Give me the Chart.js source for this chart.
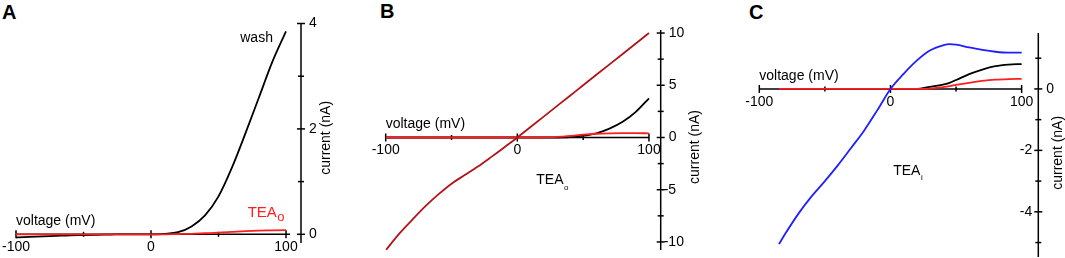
<!DOCTYPE html>
<html>
<head>
<meta charset="utf-8">
<script src="https://cdn.jsdelivr.net/npm/chart.js@4.4.1/dist/chart.umd.min.js"></script>
<style>
body{margin:0;background:#fff;width:1065px;height:258px;overflow:hidden;position:relative;font-family:"Liberation Sans",Arial,sans-serif}
canvas{position:absolute;top:0}
.lbl{position:absolute;font-weight:bold;font-size:20px;color:#000;line-height:1}
</style>
</head>
<body>
<div class="lbl" style="left:2px;top:2px">A</div>
<div class="lbl" style="left:380px;top:1px">B</div>
<div class="lbl" style="left:749px;top:2px">C</div>
<canvas id="cA" width="355" height="258" style="left:0"></canvas>
<canvas id="cB" width="355" height="258" style="left:355px"></canvas>
<canvas id="cC" width="355" height="258" style="left:710px"></canvas>
<script>
// panel A: wash vs external TEA
const voltA=[-100,-90,-80,-70,-60,-50,-40,-30,-20,-10,0,10,20,30,40,50,60,70,80,90,100]
const washA=[-0.06,-0.05,-0.04,-0.03,-0.02,-0.015,-0.01,-0.005,0,0,0,0.01,0.04,0.15,0.36,0.72,1.27,1.92,2.6,3.28,3.85]
const teaoA=[0,0,0,0,0,0,0,0,0,0,0,0,0.005,0.01,0.02,0.03,0.045,0.06,0.07,0.075,0.08]

// panel B
const voltB=[-100,-90,-80,-70,-60,-50,-40,-30,-20,-10,0,10,20,30,40,50,60,70,80,90,100]
const darkB=[-10.8,-9.25,-7.9,-6.6,-5.45,-4.42,-3.6,-2.78,-1.88,-0.95,0,1.0,2.0,3.0,4.0,5.0,6.0,7.0,8.0,9.0,10.0]
const blackB=[0,0,0,0,0,0,0,0,0,0,0,0,0,0,0.03,0.17,0.4,0.85,1.5,2.45,3.75]
const redB=[0,0,0,0,0,0,0,0,0,0,0,0,0,0.05,0.15,0.28,0.36,0.4,0.42,0.42,0.4]

// panel C: internal TEA
const voltC=[-85,-80,-70,-60,-50,-40,-30,-20,-10,0,10,20,30,40,45,50,60,70,80,90,100]
const blueC=[-5.05,-4.7,-4.05,-3.49,-3.0,-2.48,-1.92,-1.35,-0.69,0,0.49,0.92,1.25,1.42,1.46,1.44,1.35,1.27,1.21,1.18,1.18]
const blackC=[0,0,0,0,0,0,0,0,0,0,0,0,0.07,0.14,0.2,0.29,0.48,0.63,0.74,0.79,0.81]
const redC=[0,0,0,0,0,0,0,0,0,0,0,0,0.01,0.06,0.09,0.13,0.2,0.26,0.3,0.32,0.33]

const xMajor=[-100,0,100], xMinor=[-50,50]
const yMajorA=[0,2,4], yMinorA=[1,3]
const yMajorB=[-10,-5,0,5,10], yMinorB=[-7.5,-2.5,2.5,7.5]
const yMajorC=[-4,-2,0], yMinorC=[-5,-3,-1,1]

const RED='#ff1e1e', DARKRED='#b0141a', BLUE='#1f1fff', BLACK='#000'
const FONT='14px "Liberation Sans", Arial, sans-serif'

function pts(xs,ys){return xs.map((x,i)=>({x:x,y:ys[i]}))}

function drawSub(ctx,x,y,main,sub,size,subSize,drop,color){
  ctx.fillStyle=color
  ctx.font=size+'px "Liberation Sans", Arial, sans-serif'
  ctx.textAlign='left';ctx.textBaseline='middle'
  ctx.fillText(main,x,y)
  const w=ctx.measureText(main).width
  ctx.font=subSize+'px "Liberation Sans", Arial, sans-serif'
  ctx.fillText(sub,x+w+0.5,y+drop)
}

const crossAxes={
  id:'crossAxes',
  beforeDatasetsDraw(chart,args,o){
    const ctx=chart.ctx, sx=chart.scales.x, sy=chart.scales.y, ca=chart.chartArea
    const ax=sy.getPixelForValue(0), ay=ca.right
    ctx.save()
    ctx.strokeStyle=BLACK;ctx.fillStyle=BLACK;ctx.lineWidth=1.5
    ctx.beginPath();ctx.moveTo(sx.getPixelForValue(-100),ax);ctx.lineTo(sx.getPixelForValue(o.xEnd),ax);ctx.stroke()
    ctx.beginPath();ctx.moveTo(ay,ca.top);ctx.lineTo(ay,ca.bottom);ctx.stroke()
    xMajor.forEach(v=>{const p=sx.getPixelForValue(v);ctx.beginPath();ctx.moveTo(p,ax-4);ctx.lineTo(p,ax+4);ctx.stroke()})
    xMinor.forEach(v=>{const p=sx.getPixelForValue(v);ctx.beginPath();ctx.moveTo(p,ax-2.5);ctx.lineTo(p,ax+2.5);ctx.stroke()})
    o.yMajor.forEach(v=>{const p=sy.getPixelForValue(v);ctx.beginPath();ctx.moveTo(ay-4,p);ctx.lineTo(ay+4,p);ctx.stroke()})
    o.yMinor.forEach(v=>{const p=sy.getPixelForValue(v);ctx.beginPath();ctx.moveTo(ay-3,p);ctx.lineTo(ay+3,p);ctx.stroke()})
    ctx.font=FONT
    ctx.textBaseline='middle';ctx.textAlign='center'
    xMajor.forEach(v=>ctx.fillText(String(v),sx.getPixelForValue(v),ax+o.xLabDy))
    o.yMajor.forEach(v=>{
      const p=sy.getPixelForValue(v)
      if(v<0&&o.negLeft){ctx.textAlign='right';ctx.fillText(String(v),ay-6,p)}
      else{ctx.textAlign='left';ctx.fillText(String(v),ay+(v<0?3:8),p)}
    })
    ctx.textAlign='left'
    ctx.fillText('voltage (mV)',sx.getPixelForValue(-100),ax-13)
    ctx.save()
    ctx.translate(ay+o.titleDx,sy.getPixelForValue(o.titleY))
    ctx.rotate(-Math.PI/2);ctx.textAlign='center'
    ctx.fillText('current (nA)',0,0)
    ctx.restore()
    o.notes.forEach(n=>{
      const px=sx.getPixelForValue(n.x), py=sy.getPixelForValue(n.y)
      if(n.sub) drawSub(ctx,px,py,n.text,n.sub,n.size,n.subSize,n.drop,n.color)
      else{ctx.fillStyle=n.color;ctx.font=n.size+'px "Liberation Sans", Arial, sans-serif';ctx.textAlign=n.align||'left';ctx.fillText(n.text,px,py)}
    })
    ctx.restore()
  }
}

function line(data,color){
  return {data:data,borderColor:color,borderWidth:1.8,pointRadius:0,showLine:true,fill:false,cubicInterpolationMode:'monotone'}
}

function makeChart(id,datasets,xMax,yMin,yMax,pad,axOpts){
  return new Chart(document.getElementById(id),{
    type:'scatter',
    data:{datasets:datasets},
    options:{
      responsive:false,animation:false,
      layout:{padding:pad},
      scales:{
        x:{type:'linear',min:-100,max:xMax,display:false},
        y:{type:'linear',min:yMin,max:yMax,display:false}
      },
      plugins:{legend:{display:false},tooltip:{enabled:false},crossAxes:axOpts}
    },
    plugins:[crossAxes]
  })
}

makeChart('cA',[line(pts(voltA,teaoA),RED),line(pts(voltA,washA),BLACK)],
  111.1,-0.165,4.0,{left:16,right:54,top:23.5,bottom:15},
  {xEnd:103,yMajor:yMajorA,yMinor:yMinorA,xLabDy:12.5,titleDx:25,titleY:1.83,negLeft:false,
   notes:[{text:'wash',x:90.3,y:3.72,size:14,color:BLACK,align:'right'},
          {text:'TEA',sub:'o',x:71.6,y:0.41,size:15,subSize:13,drop:5,color:RED}]})

makeChart('cB',[line(pts(voltB,darkB),DARKRED),line(pts(voltB,redB),RED),line(pts(voltB,blackB),BLACK)],
  108.9,-10.77,10.29,{left:30.7,right:49.3,top:30,bottom:8},
  {xEnd:100,yMajor:yMajorB,yMinor:yMinorB,xLabDy:12.5,titleDx:34,titleY:-0.91,negLeft:false,
   notes:[{text:'TEA',sub:'o',x:14.4,y:-4.07,size:14,subSize:8,drop:8,color:BLACK}]})

makeChart('cC',[line(pts(voltC,blueC),BLUE),line(pts(voltC,redC),RED),line(pts(voltC,blackC),BLACK)],
  112.7,-5.47,1.82,{left:49.3,right:26.7,top:33,bottom:1},
  {xEnd:100,yMajor:yMajorC,yMinor:yMinorC,xLabDy:13,titleDx:20,titleY:-2.08,negLeft:true,
   notes:[{text:'TEA',sub:'i',x:2.1,y:-2.69,size:14,subSize:8,drop:6,color:BLACK}]})
</script>
</body>
</html>
